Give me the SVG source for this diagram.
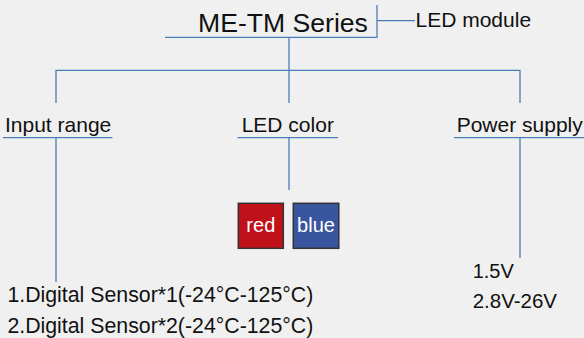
<svg xmlns="http://www.w3.org/2000/svg" width="584" height="338" viewBox="0 0 584 338">
<style>
text{font-family:"Liberation Sans",Arial,sans-serif;fill:#111}
.l{stroke:#4a7ebb;stroke-width:1.3;fill:none}
.box{stroke:#333;stroke-width:1.5}
.w{fill:#fff}
</style>
<rect width="584" height="338" fill="#f0f0f0"/>
<g id="connectors">
<path class="l" d="M165 37.3H377V5M377 20.7H415M289 37.3V103M56 103V70.3H520V103M289 70.3V103"/>
<path class="l" d="M3 137.7H112.5M237.6 137.7H338M454 137.7H584"/>
<path class="l" d="M56 137.7V282M289 137.7V190M520 137.7V258"/>
</g>
<g id="title"><text x="198" y="31.7" font-size="26.6">ME-TM Series</text></g>
<g id="led-module"><text x="415.5" y="27.3" font-size="21">LED module</text></g>
<g id="input-range"><text x="5" y="132.3" font-size="21">Input range</text></g>
<g id="led-color"><text x="241.7" y="132.3" font-size="21">LED color</text></g>
<g id="power-supply"><text x="456.7" y="132.3" font-size="21">Power supply</text></g>
<g id="red"><rect class="box" x="238.3" y="203.3" width="45" height="45" fill="#c0101a"/><text class="w" x="260.8" y="231.7" font-size="20" text-anchor="middle">red</text></g>
<g id="blue"><rect class="box" x="293.3" y="203.3" width="45.5" height="45" fill="#3a55a0"/><text class="w" x="316" y="231.7" font-size="20" text-anchor="middle">blue</text></g>
<g id="sensors"><text x="7.4" y="301.7" font-size="21.3">1.Digital Sensor*1(-24°C-125°C)</text><text x="7.4" y="333.3" font-size="21.3">2.Digital Sensor*2(-24°C-125°C)</text></g>
<g id="voltages"><text x="472.7" y="278.3" font-size="20">1.5V</text><text x="472.7" y="308.3" font-size="20.5">2.8V-26V</text></g>
</svg>
